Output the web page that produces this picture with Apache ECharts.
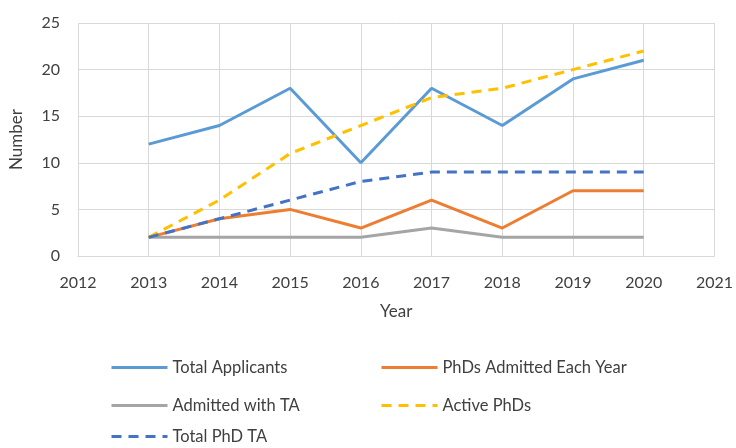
<!DOCTYPE html>
<html><head><meta charset="utf-8">
<script src="https://cdn.jsdelivr.net/npm/echarts@6/dist/echarts.min.js"></script>
<style>html,body{margin:0;padding:0;background:#fff}#c{width:736px;height:448px}</style>
</head><body><div id="c"></div>
<script>
const years = [2013, 2014, 2015, 2016, 2017, 2018, 2019, 2020];
const totalApplicants = [12, 14, 18, 10, 18, 14, 19, 21];
const phdsAdmitted = [2, 4, 5, 3, 6, 3, 7, 7];
const admittedWithTA = [2, 2, 2, 2, 3, 2, 2, 2];
const activePhDs = [2, 6, 11, 14, 17, 18, 20, 22];
const totalPhdTA = [2, 4, 6, 8, 9, 9, 9, 9];
const seriesNames = ['Total Applicants', 'PhDs Admitted Each Year', 'Admitted with TA', 'Active PhDs', 'Total PhD TA'];

const font = 'Lato, "Open Sans", sans-serif';
const pair = arr => years.map((y, i) => [y, arr[i]]);
function mk(name, arr, color, dashed) {
  return {
    name, type: 'line', data: pair(arr), symbol: 'none', z: 3,
    lineStyle: { color, width: 3, type: dashed ? [10, 7] : 'solid', cap: 'butt' },
    itemStyle: { color }
  };
}
const legendPos = [
  { left: 110, top: 359 }, { left: 380, top: 359 },
  { left: 110, top: 397 }, { left: 380, top: 397 },
  { left: 110, top: 428 }
];
const chart = echarts.init(document.getElementById('c'));
chart.setOption({
  animation: false,
  textStyle: { fontFamily: font },
  grid: { left: 75, right: 12, top: 23, bottom: 192 },
  legend: seriesNames.map((n, i) => ({
    data: [n], left: legendPos[i].left, top: legendPos[i].top, padding: 0,
    itemWidth: 56, itemHeight: 16, itemGap: 6,
    itemStyle: { opacity: 0, borderWidth: 0 },
    lineStyle: { width: 3 },
    textStyle: { fontFamily: font, fontSize: 16.5, color: '#404040' }
  })),
  xAxis: {
    type: 'value', min: 2012, max: 2021, interval: 1,
    name: 'Year', nameLocation: 'middle', nameGap: 47,
    nameTextStyle: { fontFamily: font, fontSize: 17, color: '#404040' },
    axisLine: { show: true, lineStyle: { color: '#d9d9d9', width: 1 } },
    axisTick: { show: false },
    axisLabel: { fontFamily: font, fontSize: 16, color: '#404040', margin: 19, formatter: v => String(v) },
    splitLine: { show: true, lineStyle: { color: '#d9d9d9', width: 1 } }
  },
  yAxis: {
    type: 'value', min: 0, max: 25, interval: 5,
    name: 'Number', nameLocation: 'middle', nameGap: 53, nameRotate: 90,
    nameTextStyle: { fontFamily: font, fontSize: 17, color: '#404040' },
    axisLine: { show: false }, axisTick: { show: false },
    axisLabel: { fontFamily: font, fontSize: 16, color: '#404040', margin: 18 },
    splitLine: { show: true, lineStyle: { color: '#d9d9d9', width: 1 } }
  },
  series: [
    mk(seriesNames[0], totalApplicants, '#5B9BD5', false),
    mk(seriesNames[1], phdsAdmitted, '#ED7D31', false),
    mk(seriesNames[2], admittedWithTA, '#A5A5A5', false),
    mk(seriesNames[3], activePhDs, '#FFC000', true),
    mk(seriesNames[4], totalPhdTA, '#4472C4', true)
  ]
});
</script></body></html>
